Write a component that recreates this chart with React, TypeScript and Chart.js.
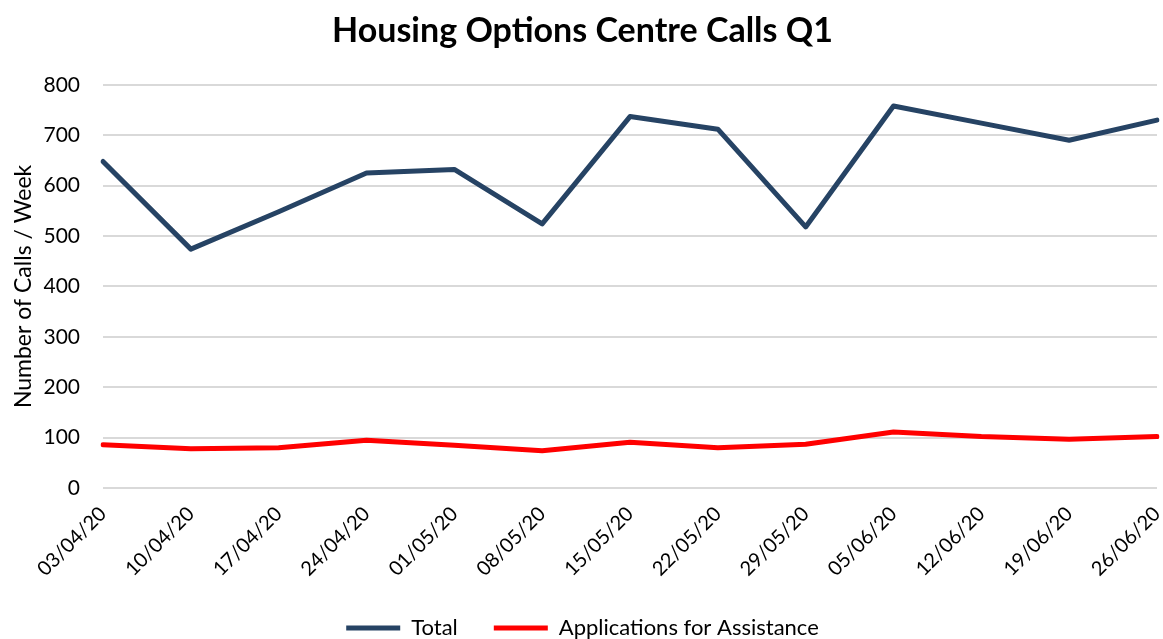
import React, { useEffect, useRef } from "react";
import { Chart, registerables } from "chart.js";

Chart.register(...registerables);

const weeks = [
  "03/04/20", "10/04/20", "17/04/20", "24/04/20", "01/05/20", "08/05/20", "15/05/20",
  "22/05/20", "29/05/20", "05/06/20", "12/06/20", "19/06/20", "26/06/20",
];
const totalCalls = [648, 474, 548, 625, 632, 524, 737, 712, 518, 758, 724, 690, 730];
const applications = [86, 78, 80, 95, 85, 74, 91, 80, 87, 111, 102, 97, 102];
const yTicks = [0, 100, 200, 300, 400, 500, 600, 700, 800];

const FONT = "Lato, 'Noto Sans', sans-serif";

const legendPlace = {
  id: "legendPlace",
  afterLayout(chart: any) {
    const lg = chart.legend;
    if (lg) {
      lg.top = 581;
      lg.bottom = 639;
      lg.height = 58;
    }
  },
};

export default function App() {
  const ref = useRef<HTMLCanvasElement | null>(null);

  useEffect(() => {
    if (!ref.current) return;
    const chart = new Chart(ref.current, {
      type: "line",
      plugins: [legendPlace],
      data: {
        labels: weeks,
        datasets: [
          {
            label: "Total",
            data: totalCalls,
            borderColor: "#264364",
            backgroundColor: "#264364",
            borderWidth: 5,
            pointRadius: 0,
            tension: 0,
            borderCapStyle: "round",
            borderJoinStyle: "round",
          },
          {
            label: "Applications for Assistance",
            data: applications,
            borderColor: "#ff0000",
            backgroundColor: "#ff0000",
            borderWidth: 5,
            pointRadius: 0,
            tension: 0,
            borderCapStyle: "round",
            borderJoinStyle: "round",
          },
        ],
      },
      options: {
        animation: false,
        responsive: false,
        devicePixelRatio: 1,
        layout: { padding: { left: 8, right: 6, top: 0, bottom: 4 } },
        plugins: {
          title: {
            display: true,
            text: "Housing Options Centre Calls Q1",
            color: "#000000",
            font: { family: FONT, size: 34, weight: "bold" },
            padding: { top: 11, bottom: 33 },
          },
          legend: {
            position: "bottom",
            maxHeight: 48,
            labels: {
              usePointStyle: true,
              pointStyle: "line",
              pointStyleWidth: 54,
              color: "#000000",
              font: { family: FONT, size: 22 },
              padding: 36,
            },
          },
          tooltip: { enabled: false },
        },
        scales: {
          x: {
            offset: false,
            grid: { display: false },
            border: { display: false },
            afterFit: (scale: any) => {
              scale.paddingLeft = 0;
              scale.paddingRight = 0;
            },
            ticks: {
              color: "#000000",
              font: { family: FONT, size: 20 },
              minRotation: 45,
              maxRotation: 45,
              autoSkip: false,
              padding: 6,
            },
          },
          y: {
            min: 0,
            max: 800,
            afterBuildTicks: (axis: any) => {
              axis.ticks = yTicks.map((v) => ({ value: v }));
            },
            afterFit: (scale: any) => {
              scale.width = 95;
            },
            grid: { color: "#d9d9d9", lineWidth: 2, drawTicks: false },
            border: { display: false },
            ticks: {
              color: "#000000",
              font: { family: FONT, size: 21 },
              padding: 23,
            },
            title: {
              display: true,
              text: "Number of Calls / Week",
              color: "#000000",
              font: { family: FONT, size: 23 },
              padding: { top: 2, bottom: 8 },
            },
          },
        },
      },
    });
    return () => chart.destroy();
  }, []);

  return (
    <div style={{ position: "fixed", left: 0, top: 0, width: 1163, height: 639, background: "#fff" }}>
      <canvas ref={ref} width={1163} height={639} style={{ width: 1163, height: 639 }} />
    </div>
  );
}
